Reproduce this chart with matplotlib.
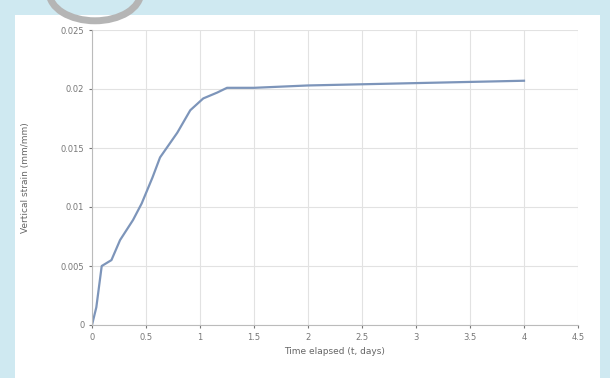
import matplotlib
matplotlib.use('Agg')
import matplotlib.pyplot as plt
from matplotlib.patches import Rectangle, Circle

## ------------ data -----------
time = [0, 0.04, 0.09, 0.18, 0.26, 0.38, 0.46, 0.56, 0.63, 0.79, 0.91, 1.03, 1.16, 1.25,
        1.5, 2.0, 2.5, 3.0, 3.5, 4.0]
strain = [0, 0.0015, 0.005, 0.0055, 0.0072, 0.0089, 0.0103, 0.0125, 0.0142, 0.0163,
          0.0182, 0.0192, 0.0197, 0.0201, 0.0201, 0.0203, 0.0204, 0.0205, 0.0206, 0.0207]
xticks = [0, 0.5, 1, 1.5, 2, 2.5, 3, 3.5, 4, 4.5]
yticks = [0, 0.005, 0.01, 0.015, 0.02, 0.025]

## ------------ figure with framed background -----------
fig = plt.figure(figsize=(6.1, 3.78), dpi=100)
fig.patch.set_facecolor('#cfe9f1')
fig.patches.append(Rectangle((15/610, 0), 585/610, 1 - 15/378, transform=fig.transFigure,
                             facecolor='white', edgecolor='none', zorder=-2))
fig.patches.append(Circle((95/610, 1.02), 0.075, transform=fig.transFigure,
                          facecolor='none', edgecolor='#b5b5b5', lw=5, zorder=-1))

ax = fig.add_axes([92/610, 53/378, 486/610, 295/378])
ax.set_zorder(2)
ax.patch.set_alpha(0)
ax.plot(time, strain, color='#7d95ba', lw=1.6)
ax.set_xlim(0, 4.5)
ax.set_ylim(0, 0.025)
ax.set_xticks(xticks, labels=[f'{t:g}' for t in xticks])
ax.set_yticks(yticks, labels=[f'{t:g}' for t in yticks])
ax.grid(True, color='#e2e2e2', lw=0.8)
ax.set_axisbelow(True)
ax.tick_params(labelsize=6, colors='#777777', length=2)
for s in ['top', 'right']:
    ax.spines[s].set_visible(False)
for s in ['left', 'bottom']:
    ax.spines[s].set_color('#bbbbbb')
ax.set_xlabel('Time elapsed (t, days)', fontsize=6.5, color='#666666')
ax.set_ylabel('Vertical strain (mm/mm)', fontsize=6.5, color='#666666', labelpad=22)

fig.savefig('out.png', dpi=100, facecolor=fig.get_facecolor())
